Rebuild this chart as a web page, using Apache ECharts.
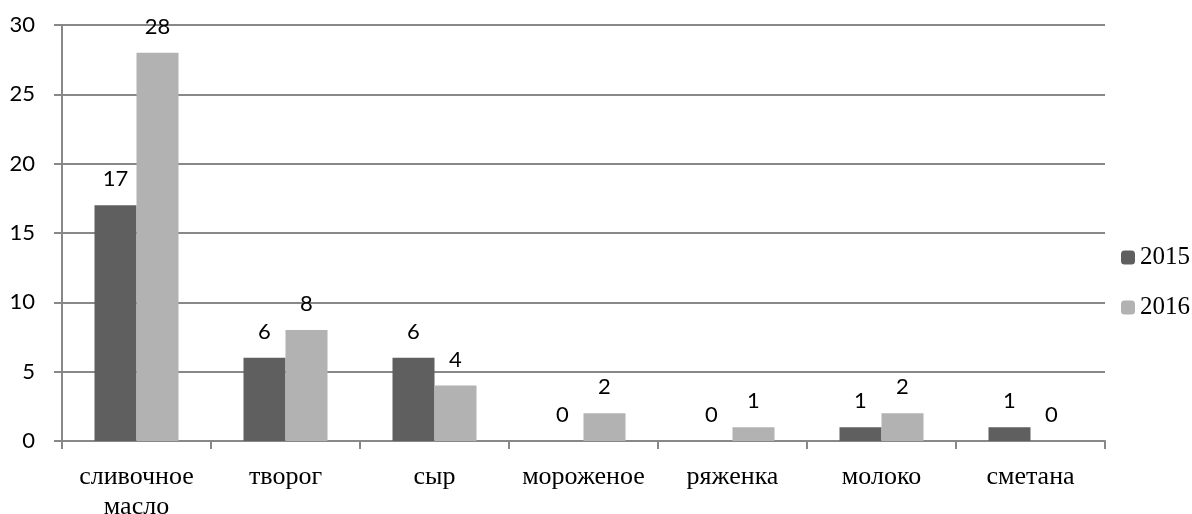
<!DOCTYPE html>
<html><head><meta charset="utf-8">
<script src="https://cdn.jsdelivr.net/npm/echarts@6/dist/echarts.min.js"></script>
<style>html,body{margin:0;padding:0;background:#fff}#c{width:1192px;height:514px}</style>
</head><body><div id="c"></div>
<script>
var categories = ['сливочное\nмасло', 'творог', 'сыр', 'мороженое', 'ряженка', 'молоко', 'сметана'];
var seriesNames = ['2015', '2016'];
var values2015 = [17, 6, 6, 0, 0, 1, 1];
var values2016 = [28, 8, 4, 2, 1, 2, 0];
var yTicks = [0, 5, 10, 15, 20, 25, 30];

var chart = echarts.init(document.getElementById('c'), null, {renderer: 'canvas'});
var labelStyle = {show: true, position: 'top', distance: 15, fontFamily: 'Lato, "Open Sans", sans-serif', fontSize: 22, color: '#000'};
chart.setOption({
  animation: false,
  backgroundColor: '#fff',
  grid: {left: 62, right: 87, top: 25, bottom: 73, containLabel: false, outerBoundsMode: 'none'},
  legend: {
    orient: 'vertical', left: 1116, top: 240, itemWidth: 14, itemHeight: 14, itemGap: 25,
    textStyle: {fontFamily: '"Liberation Serif", "Times New Roman", serif', fontSize: 25, color: '#000'},
    data: seriesNames
  },
  xAxis: {
    type: 'category', data: categories,
    axisLine: {lineStyle: {color: '#888', width: 2}},
    axisTick: {show: true, length: 8, lineStyle: {color: '#888', width: 2}},
    axisLabel: {margin: 21, lineHeight: 30, fontFamily: '"Liberation Serif", "Times New Roman", serif', fontSize: 26, color: '#000', interval: 0}
  },
  yAxis: {
    type: 'value', min: 0, max: 30, interval: 5,
    axisLine: {show: true, lineStyle: {color: '#888', width: 2}},
    axisTick: {show: true, length: 8, lineStyle: {color: '#888', width: 2}},
    axisLabel: {margin: 27, fontFamily: 'Lato, "Open Sans", sans-serif', fontSize: 22, color: '#000',
      formatter: function (v) { return yTicks.indexOf(v) >= 0 ? String(v) : ''; }},
    splitLine: {lineStyle: {color: '#888', width: 2}}
  },
  series: [
    {name: seriesNames[0], type: 'bar', data: values2015, barWidth: 42, barGap: '0%',
     itemStyle: {color: '#5f5f5f'}, label: labelStyle},
    {name: seriesNames[1], type: 'bar', data: values2016, barWidth: 42,
     itemStyle: {color: '#b2b2b2'}, label: labelStyle}
  ]
});
</script></body></html>
